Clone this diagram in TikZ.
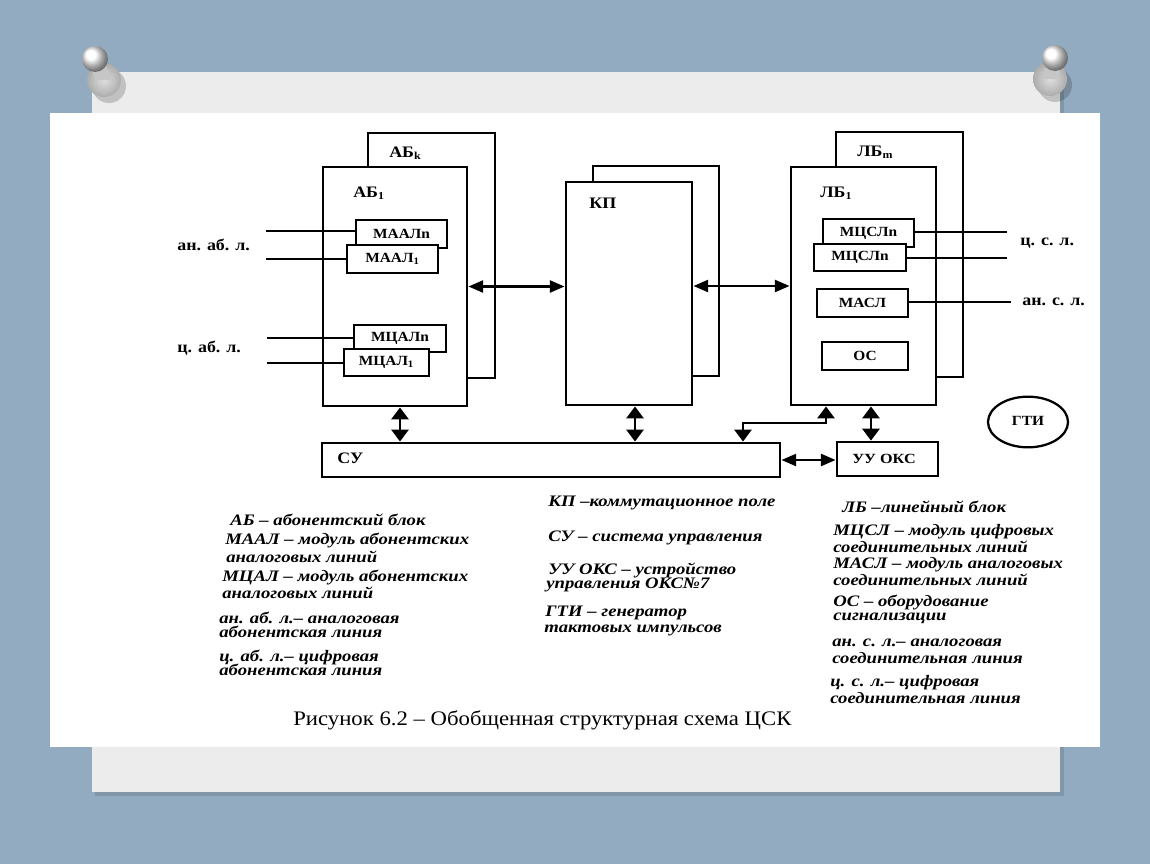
\documentclass[tikz,border=0pt]{standalone}
\usepackage{fontspec}
\setmainfont{Liberation Serif}
\usetikzlibrary{arrows.meta,fit,shapes.geometric}
\definecolor{bgblue}{HTML}{93ABC0}
\definecolor{paper}{HTML}{ECECEC}
\begin{document}
\begin{tikzpicture}[x=0.75pt,y=-0.75pt,
  box/.style={draw, line width=2.2pt, fill=white, inner sep=0pt},
  sbox/.style={draw, line width=2.1pt, fill=white, inner sep=0pt},
  mtext/.style={font=\bfseries\fontsize{10.5}{12}\selectfont, inner sep=0pt, xscale=1.1},
  lbl/.style={font=\bfseries\fontsize{12}{14}\selectfont, inner sep=0pt, anchor=west, xscale=1.12},
  lead/.style={line width=1.6pt},
  harr/.style={line width=1.7pt, {Triangle[length=11pt,width=9pt]}-{Triangle[length=11pt,width=9pt]}},
  varr/.style={line width=1.7pt, {Triangle[length=9pt,width=13pt]}-{Triangle[length=9pt,width=13pt]}},
  leg/.style={font=\bfseries\itshape\fontsize{12}{14}\selectfont, inner sep=0pt, anchor=west, xscale=1.17},
  captext/.style={font=\fontsize{15.5}{18}\selectfont, inner sep=0pt, anchor=west, xscale=1.1}
]
\useasboundingbox (0,0) rectangle (1150,864);
% background
\fill[bgblue] (0,0) rectangle (1150,864);
\fill[black,opacity=0.12] (95,76) rectangle (1064,796);
\fill[paper] (92,72) rectangle (1060,792);
\fill[white] (50,113) rectangle (1100,747);
% pins
\foreach \bx/\by/\hx/\hy in {104/80/95/59, 1050/79/1055/58}{
  \fill[black,opacity=0.18] (\bx+5,\by+6) circle (17);
  \shade[inner color=gray!25, outer color=gray!65] (\bx,\by) circle (17);
  \fill[gray!45] (\hx-8,\hy) -- (\hx+8,\hy) -- (\bx+8,\by) -- (\bx-8,\by) -- cycle;
  \shade[ball color=white] (\hx,\hy) circle (13);
}
% blocks
\node[box, fit={(368,133)(495,378)}] (abk) {};
\node[box, fit={(323,167)(467,406)}] (ab1) {};
\node[lbl] (abkl) at (389,153) {АБ\textsubscript{k}};
\node[lbl] (ab1l) at (353,193) {АБ\textsubscript{1}};
\node[box, fit={(593,166)(719,376)}] (kpb) {};
\node[box, fit={(566,182)(692,405)}] (kp) {};
\node[lbl] (kpl) at (589,203) {КП};
\node[box, fit={(836,132)(963,377)}] (lbm) {};
\node[box, fit={(791,167)(936,405)}] (lb1) {};
\node[lbl] (lbml) at (857,152) {ЛБ\textsubscript{m}};
\node[lbl] (lb1l) at (820,193) {ЛБ\textsubscript{1}};
% modules
\node[sbox, fit={(356,220)(447,248)}] (maaln) {};
\node[mtext] (maalnt) at (maaln.center) {МААЛn};
\node[sbox, fit={(347,245)(438,273)}] (maal1) {};
\node[mtext] (maal1t) at (maal1.center) {МААЛ\textsubscript{1}};
\node[sbox, fit={(354,325)(446,352)}] (mcaln) {};
\node[mtext] (mcalnt) at (mcaln.center) {МЦАЛn};
\node[sbox, fit={(344,349)(429,376)}] (mcal1) {};
\node[mtext] (mcal1t) at (mcal1.center) {МЦАЛ\textsubscript{1}};
\node[sbox, fit={(823,219)(914,247)}] (mcslb) {};
\node[mtext] (mcslbt) at (mcslb.center) {МЦСЛn};
\node[sbox, fit={(814,244)(906,271)}] (mcslf) {};
\node[mtext] (mcslft) at (mcslf.center) {МЦСЛn};
\node[sbox, fit={(817,289)(908,317)}] (masl) {};
\node[mtext] (maslt) at (masl.center) {МАСЛ};
\node[sbox, fit={(822,342)(908,370)}] (os) {};
\node[mtext] (ost) at (os.center) {ОС};
\node[box, fit={(322,443)(780,477)}] (su) {};
\node[lbl] (sul) at (337,458) {СУ};
\node[sbox, fit={(837,442)(938,476)}] (uuoks) {};
\node[mtext, xscale=1.05] (uuokst) at (884,459) {УУ ОКС};
\node[draw, line width=1.7pt, ellipse, minimum width=60pt, minimum height=38pt, inner sep=0pt] (gti) at (1028,422) {};
\node[mtext] (gtit) at (1028,421) {ГТИ};
% line leads
\coordinate (aal1) at (266,231);
\coordinate (aal2) at (266,259);
\coordinate (cal1) at (267,338);
\coordinate (cal2) at (267,363);
\coordinate (csl1) at (1007,232);
\coordinate (csl2) at (1007,258);
\coordinate (asl) at (1011,302);
\draw[lead] (aal1) -- (maaln.west |- aal1);
\draw[lead] (aal2) -- (maal1.west |- aal2);
\draw[lead] (cal1) -- (mcaln.west |- cal1);
\draw[lead] (cal2) -- (mcal1.west |- cal2);
\draw[lead] (mcslb.east |- csl1) -- (csl1);
\draw[lead] (mcslf.east |- csl2) -- (csl2);
\draw[lead] (masl.east |- asl) -- (asl);
\node[lbl] (anabl) at (177,245) {ан. аб. л.};
\node[lbl] (cabl) at (177,348) {ц. аб. л.};
\node[lbl] (csll) at (1020,243) {ц. с. л.};
\node[lbl] (asll) at (1022,302) {ан. с. л.};
% arrows
\draw[harr] (ab1.east) -- (ab1.east -| kp.west);
\draw[harr] (kp.east |- lb1.west) -- (lb1.west);
\coordinate (x1) at (400,0);
\coordinate (x2) at (635,0);
\coordinate (x3) at (826,423);
\coordinate (x4) at (743,423);
\coordinate (x5) at (871,0);
\draw[varr] (x1 |- ab1.south) -- (x1 |- su.north);
\draw[varr] (x2 |- kp.south) -- (x2 |- su.north);
\draw[varr] (x3 |- lb1.south) -- (x3) -- (x4) -- (x4 |- su.north);
\draw[varr] (x5 |- lb1.south) -- (x5 |- uuoks.north);
\draw[harr] (su.east) -- (su.east -| uuoks.west);
% legend left
\node[leg] (la1) at (230,520) {АБ – абонентский блок};
\node[leg] (la2) at (225,540) {МААЛ – модуль абонентских};
\node[leg] (la3) at (226,557) {аналоговых линий};
\node[leg] (la4) at (222,577) {МЦАЛ – модуль абонентских};
\node[leg] (la5) at (222,593) {аналоговых линий};
\node[leg] (la6) at (219,618) {ан. аб. л.– аналоговая};
\node[leg] (la7) at (219,632) {абонентская линия};
\node[leg] (la8) at (219,657) {ц. аб. л.– цифровая};
\node[leg] (la9) at (219,670) {абонентская линия};
% legend middle
\node[leg] (lb1t) at (548,503) {КП –коммутационное поле};
\node[leg] (lb2t) at (548,538) {СУ – система управления};
\node[leg] (lb3t) at (548,570) {УУ ОКС – устройство};
\node[leg] (lb4t) at (546,585) {управления ОКС№7};
\node[leg] (lb5t) at (545,613) {ГТИ – генератор};
\node[leg] (lb6t) at (544,630) {тактовых импульсов};
% legend right
\node[leg] (lc1) at (842,507) {ЛБ –линейный блок};
\node[leg] (lc2) at (833,532) {МЦСЛ – модуль цифровых};
\node[leg] (lc3) at (833,547) {соединительных линий};
\node[leg] (lc4) at (833,565) {МАСЛ – модуль аналоговых};
\node[leg] (lc5) at (833,580) {соединительных линий};
\node[leg] (lc6) at (833,602) {ОС – оборудование};
\node[leg] (lc7) at (833,618) {сигнализации};
\node[leg] (lc8) at (832,643) {ан. с. л.– аналоговая};
\node[leg] (lc9) at (832,658) {соединительная линия};
\node[leg] (lc10) at (830,683) {ц. с. л.– цифровая};
\node[leg] (lc11) at (830,698) {соединительная линия};
% caption
\node[captext] (caption) at (293,720) {Рисунок 6.2 – Обобщенная структурная схема ЦСК};
\end{tikzpicture}
\end{document}
